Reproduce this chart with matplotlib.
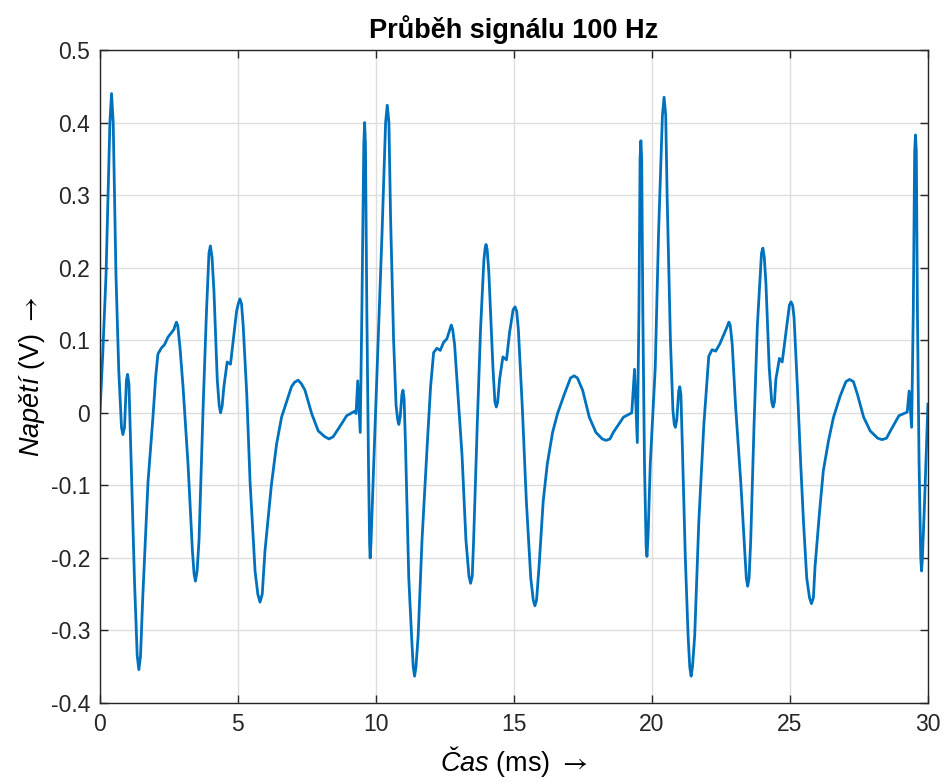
import matplotlib
matplotlib.use("Agg")
import matplotlib.pyplot as plt
import numpy as np

# points: time (ms) and voltage (V), in three stretches
t_a = [0.0, 0.1, 0.22, 0.36, 0.42, 0.48, 0.58, 0.68, 0.78, 0.83, 0.89, 0.96, 1.0, 1.05, 1.13, 1.25,
       1.35, 1.41, 1.47, 1.55, 1.74, 1.92, 2.02, 2.1, 2.22, 2.34, 2.46, 2.58, 2.68, 2.72, 2.77, 2.82,
       2.9, 3.01, 3.19, 3.35, 3.41, 3.46, 3.52, 3.59, 3.74, 3.86, 3.95, 4.0, 4.06, 4.13, 4.25, 4.32,
       4.37, 4.43, 4.49, 4.61, 4.73, 4.83, 4.95, 5.01, 5.07, 5.13, 5.19, 5.32, 5.44, 5.62, 5.72, 5.8,
       5.88, 5.98, 6.21, 6.4, 6.58, 6.76, 6.94, 7.05, 7.18, 7.3, 7.43, 7.67, 7.91, 8.15, 8.3, 8.45,
       8.64, 8.94, 9.22]
u_a = [0.0, 0.08, 0.19, 0.40, 0.44, 0.40, 0.19, 0.06, -0.02, -0.03, -0.02, 0.045, 0.053, 0.04, -0.07, -0.23,
       -0.335, -0.354, -0.335, -0.255, -0.096, -0.006, 0.05, 0.081, 0.089, 0.094, 0.104, 0.11, 0.115, 0.12, 0.125, 0.12,
       0.09, 0.036, -0.07, -0.19, -0.222, -0.232, -0.218, -0.175, 0.01, 0.14, 0.22, 0.23, 0.215, 0.168, 0.046, 0.01,
       0.0, 0.01, 0.036, 0.07, 0.067, 0.1, 0.14, 0.15, 0.157, 0.15, 0.12, 0.025, -0.096, -0.218, -0.25, -0.261,
       -0.25, -0.19, -0.1, -0.043, -0.006, 0.015, 0.036, 0.042, 0.045, 0.04, 0.031, -0.001, -0.025, -0.033, -0.036, -0.033,
       -0.022, -0.004, 0.002]

t_b = [9.28, 9.34, 9.43, 9.49, 9.56, 9.59, 9.62, 9.67, 9.73, 9.77, 9.79, 9.82, 9.92, 10.07, 10.22, 10.35,
       10.41, 10.47, 10.53, 10.64, 10.73, 10.79, 10.83, 10.88, 10.94, 10.98, 11.02, 11.07, 11.19, 11.29, 11.35, 11.4,
       11.45, 11.53, 11.67, 11.86, 11.98, 12.09, 12.21, 12.33, 12.45, 12.57, 12.68, 12.73, 12.78, 12.85, 13.0, 13.12,
       13.26, 13.37, 13.43, 13.49, 13.54, 13.67, 13.79, 13.91, 13.96, 13.99, 14.03, 14.09, 14.24, 14.31, 14.36, 14.41,
       14.48, 14.6, 14.73, 14.84, 14.97, 15.04, 15.1, 15.16, 15.3, 15.45, 15.61, 15.7, 15.76, 15.82, 15.91, 16.06,
       16.21, 16.4, 16.58, 16.82, 17.05, 17.18, 17.3, 17.49, 17.73, 17.97, 18.2, 18.34, 18.48, 18.6, 18.97, 19.27]
u_b = [-0.001, 0.044, -0.027, 0.14, 0.37, 0.40, 0.37, 0.14, -0.07, -0.18, -0.20, -0.18, -0.07, 0.089, 0.247, 0.40,
       0.424, 0.40, 0.27, 0.10, 0.01, -0.01, -0.016, -0.005, 0.025, 0.031, 0.02, -0.043, -0.228, -0.307, -0.35, -0.363,
       -0.35, -0.307, -0.175, -0.043, 0.036, 0.083, 0.089, 0.086, 0.097, 0.102, 0.115, 0.121, 0.115, 0.094, 0.01, -0.059,
       -0.175, -0.225, -0.235, -0.225, -0.175, -0.017, 0.115, 0.21, 0.228, 0.232, 0.225, 0.194, 0.062, 0.015, 0.008, 0.015,
       0.046, 0.077, 0.073, 0.11, 0.142, 0.146, 0.14, 0.115, 0.01, -0.122, -0.228, -0.258, -0.266, -0.258, -0.212, -0.122,
       -0.07, -0.027, -0.001, 0.025, 0.048, 0.051, 0.048, 0.031, -0.006, -0.027, -0.036, -0.038, -0.036, -0.027, -0.006, 0.0]

t_c = [19.37, 19.47, 19.53, 19.57, 19.6, 19.63, 19.67, 19.73, 19.79, 19.82, 19.86, 19.94, 20.12, 20.24, 20.38, 20.44,
       20.5, 20.55, 20.67, 20.76, 20.81, 20.85, 20.9, 20.97, 21.01, 21.05, 21.1, 21.21, 21.31, 21.37, 21.42, 21.47,
       21.55, 21.7, 21.88, 22.06, 22.18, 22.31, 22.46, 22.63, 22.74, 22.79, 22.84, 22.91, 23.03, 23.22, 23.34, 23.42,
       23.47, 23.52, 23.58, 23.7, 23.82, 23.97, 24.02, 24.07, 24.13, 24.25, 24.34, 24.39, 24.44, 24.49, 24.62, 24.72,
       24.82, 24.98, 25.04, 25.1, 25.15, 25.27, 25.39, 25.49, 25.61, 25.71, 25.78, 25.85, 25.91, 26.07, 26.21, 26.4,
       26.58, 26.82, 27.03, 27.16, 27.3, 27.45, 27.67, 27.91, 28.18, 28.34, 28.5, 28.64, 28.95, 29.25, 29.32, 29.41,
       29.47, 29.52, 29.55, 29.58, 29.62, 29.68, 29.74, 29.77, 29.8, 29.88, 30.0]
u_c = [0.06, -0.041, 0.14, 0.35, 0.375, 0.35, 0.14, -0.07, -0.185, -0.198, -0.17, -0.07, 0.062, 0.247, 0.41, 0.435,
       0.41, 0.30, 0.10, 0.004, -0.016, -0.02, -0.01, 0.03, 0.036, 0.025, -0.043, -0.2, -0.307, -0.35, -0.363, -0.35,
       -0.307, -0.149, -0.017, 0.078, 0.087, 0.085, 0.095, 0.11, 0.12, 0.125, 0.12, 0.094, 0.01, -0.096, -0.175, -0.228,
       -0.239, -0.228, -0.175, -0.017, 0.12, 0.22, 0.227, 0.215, 0.179, 0.062, 0.015, 0.008, 0.015, 0.046, 0.075, 0.07,
       0.10, 0.148, 0.153, 0.148, 0.131, 0.036, -0.07, -0.149, -0.228, -0.255, -0.263, -0.255, -0.212, -0.138, -0.08, -0.038,
       -0.006, 0.023, 0.043, 0.046, 0.043, 0.025, -0.006, -0.025, -0.035, -0.037, -0.035, -0.025, -0.004, 0.001, 0.03, -0.02,
       0.14, 0.36, 0.383, 0.36, 0.14, -0.07, -0.2, -0.218, -0.2, -0.122, 0.012]

x_ticks = [0, 5, 10, 15, 20, 25, 30]
y_ticks = [-0.4, -0.3, -0.2, -0.1, 0, 0.1, 0.2, 0.3, 0.4, 0.5]
y_labels = ['-0.4', '-0.3', '-0.2', '-0.1', '0', '0.1', '0.2', '0.3', '0.4', '0.5']

t_ms = t_a + t_b + t_c
u_V = u_a + u_b + u_c

plt.rcParams['font.family'] = ['Liberation Sans', 'DejaVu Sans']
plt.rcParams['mathtext.fontset'] = 'custom'
plt.rcParams['mathtext.rm'] = 'Liberation Sans'
plt.rcParams['mathtext.it'] = 'Liberation Sans:italic'
plt.rcParams['mathtext.sf'] = 'STIXGeneral'
plt.rcParams['axes.unicode_minus'] = False

fig = plt.figure(figsize=(9.43, 7.82), dpi=100)
ax = fig.add_axes([0.106, 0.101, 0.878, 0.835])

ax.plot(t_ms, u_V, color='#0072BD', lw=2.0, solid_joinstyle='round')

ax.set_xlim(0, 30)
ax.set_ylim(-0.4, 0.5)
ax.set_xticks(x_ticks)
ax.set_yticks(y_ticks)
ax.set_yticklabels(y_labels)
ax.grid(True, color='#dedede', lw=1)
ax.set_axisbelow(True)
ax.tick_params(direction='in', top=True, right=True, length=6, width=1,
               labelsize=16.5, colors='#262626', pad=7)
for s in ax.spines.values():
    s.set_color('#262626')
    s.set_linewidth(1)

ax.set_title('Průběh signálu 100 Hz', fontsize=19.5, fontweight='bold', pad=9)
ax.set_xlabel(r'$\mathit{Čas}$ (ms) $\mathsf{\rightarrow}$', fontsize=19.5, labelpad=6)
ax.set_ylabel(r'$\mathit{Napětí}$ (V) $\mathsf{\rightarrow}$', fontsize=19.5, labelpad=3)

fig.savefig('out.png', dpi=100)
